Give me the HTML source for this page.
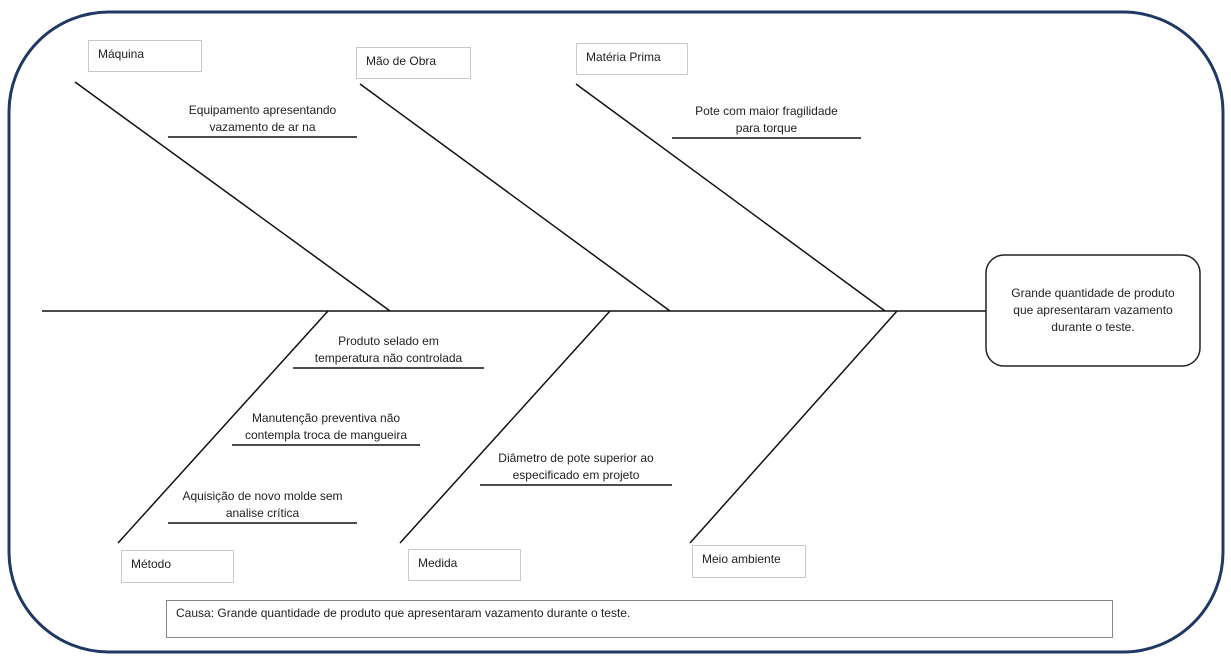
<!DOCTYPE html>
<html><head><meta charset="utf-8"><style>
html,body{margin:0;padding:0;background:#fff;}
body{width:1231px;height:663px;position:relative;overflow:hidden;font-family:"Liberation Sans",sans-serif;color:#222;}
.t{position:absolute;font-size:12px;text-align:center;line-height:17px;}
.b{position:absolute;border:1px solid #c8c8c8;background:#fff;font-size:12px;box-sizing:border-box;padding:6px 0 0 9px;}
</style></head><body>
<svg width="1231" height="663" style="position:absolute;left:0;top:0">
<rect x="9" y="12" width="1214" height="640" rx="100" ry="100" fill="none" stroke="#1f3864" stroke-width="3"/>
<g stroke="#111" stroke-width="1.5" fill="none">
<line x1="42" y1="311" x2="986" y2="311"/>
<line x1="75" y1="82" x2="390" y2="311"/>
<line x1="360" y1="84" x2="670" y2="311"/>
<line x1="576" y1="84" x2="885" y2="311"/>
<line x1="118" y1="543" x2="328" y2="311"/>
<line x1="400" y1="543" x2="610" y2="311"/>
<line x1="690" y1="543" x2="897" y2="311"/>
<line x1="168" y1="137" x2="357" y2="137"/>
<line x1="672" y1="138" x2="861" y2="138"/>
<line x1="293" y1="368" x2="484" y2="368"/>
<line x1="232" y1="445" x2="420" y2="445"/>
<line x1="168" y1="523" x2="357" y2="523"/>
<line x1="480" y1="485" x2="672" y2="485"/>
</g>
<rect x="986" y="255" width="214" height="111" rx="18" fill="#fff" stroke="#222" stroke-width="1.5"/>
</svg>
<div class="b" style="left:88px;top:40px;width:114px;height:32px">Máquina</div>
<div class="b" style="left:356px;top:47px;width:115px;height:32px">Mão de Obra</div>
<div class="b" style="left:576px;top:43px;width:112px;height:32px">Matéria Prima</div>
<div class="b" style="left:121px;top:550px;width:113px;height:33px">Método</div>
<div class="b" style="left:408px;top:549px;width:113px;height:32px">Medida</div>
<div class="b" style="left:692px;top:545px;width:114px;height:33px">Meio ambiente</div>
<div class="b" style="left:166px;top:600px;width:947px;height:38px;border-color:#888;padding-top:5px">Causa: Grande quantidade de produto que apresentaram vazamento durante o teste.</div>
<div class="t" style="left:168px;top:102px;width:189px">Equipamento apresentando<br>vazamento de ar na</div>
<div class="t" style="left:672px;top:103px;width:189px">Pote com maior fragilidade<br>para torque</div>
<div class="t" style="left:293px;top:333px;width:191px">Produto selado em<br>temperatura não controlada</div>
<div class="t" style="left:232px;top:410px;width:188px">Manutenção preventiva não<br>contempla troca de mangueira</div>
<div class="t" style="left:168px;top:488px;width:189px">Aquisição de novo molde sem<br>analise crítica</div>
<div class="t" style="left:480px;top:450px;width:192px">Diâmetro de pote superior ao<br>especificado em projeto</div>
<div class="t" style="left:990px;top:285px;width:206px">Grande quantidade de produto<br>que apresentaram vazamento<br>durante o teste.</div>
</body></html>
